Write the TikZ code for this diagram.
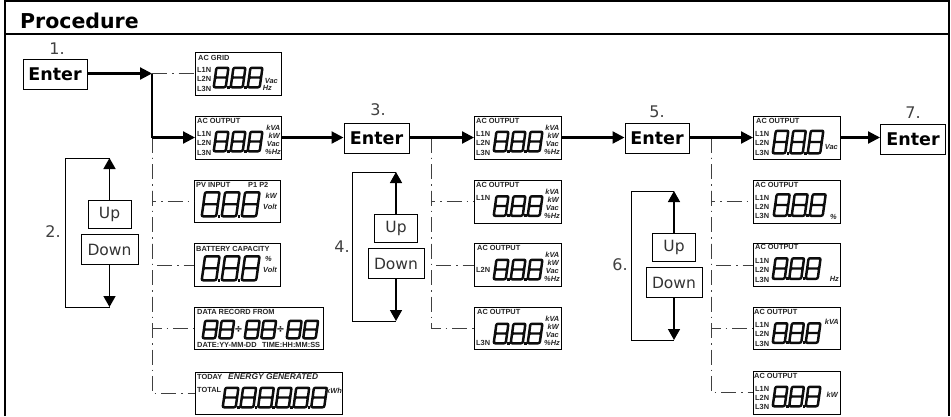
\documentclass[tikz,border=0pt]{standalone}
\usepackage{fontspec}
\setmainfont{DejaVu Sans}
\newfontfamily\lcdfont{Liberation Sans}
\usetikzlibrary{arrows.meta}
\newcounter{tc}
\tikzset{
  every picture/.style={x=1pt,y=-1pt},
  frameline/.style={line width=2.4pt,black},
  keybold/.style={draw,line width=1pt,inner sep=0pt,font=\bfseries\fontsize{17.5}{18}\selectfont,minimum width=64pt,minimum height=30pt},
  keyplain/.style={draw,line width=1pt,inner sep=0pt,font=\fontsize{15.5}{16}\selectfont,text=black!80},
  screen/.style={draw,line width=1pt,anchor=north west,inner sep=0pt,fill=white},
  steptext/.style={inner sep=0pt,text=black!75,font=\fontsize{16}{17}\selectfont},
  mainarrow/.style={line width=2.2pt,-{Triangle[length=12pt,width=12pt]}},
  loopline/.style={line width=1pt},
  looparrow/.style={line width=1.5pt,-{Triangle[length=11pt,width=12pt]}},
  dashdot/.style={line width=1pt,black!75,dash pattern=on 15pt off 5pt on 1.5pt off 5pt},
  segfill/.style={fill=black!95,even odd rule},
  tiny/.style={inner sep=0pt,text=black!85,font=\lcdfont\bfseries\fontsize{7.4}{7.6}\selectfont},
  unit/.style={inner sep=0pt,text=black!85,anchor=east,font=\lcdfont\bfseries\itshape\fontsize{7.4}{7.6}\selectfont},
}
% one seven-segment digit: x, bottom y, width, height
\newcommand\lcddigit[4]{%
  \begin{scope}[shift={(#1,#2)},xslant=0.14]
    \path[segfill]
      [rounded corners=2.6pt] (-1.5,1.5) rectangle (#3+1.5,-#4-1.5)
      [rounded corners=0.5pt] (1,-1) rectangle (#3-1,-#4/2+1.1)
      (1,-#4/2-1.1) rectangle (#3-1,-#4+1);
  \end{scope}}
\newcommand\lcddot[2]{\fill[black!95] (#1,#2) rectangle ++(2.6,-2.6);}
% row of digits: x, bottom y, count, advance, width, height, dots(0/1)
\newcommand\lcdrow[7]{%
  \foreach \k in {1,...,#3}{%
    \pgfmathsetmacro\xx{#1+(\k-1)*#4}%
    \lcddigit{\xx}{#2}{#5}{#6}%
    \ifnum#7=1
      \ifnum\k<#3
        \pgfmathsetmacro\xd{\xx+#5+1.5}%
        \lcddot{\xd}{#2+1.5}%
      \fi
    \fi
  }}
\newcommand\tl[3]{\stepcounter{tc}\node[tiny,anchor=west] (t\thetc) at (#1,#2) {#3};}
\newcommand\un[3]{\stepcounter{tc}\node[unit] (t\thetc) at (#1,#2) {#3};}
% screen frame at x,y with size w,h
\newcommand\scr[5]{%
  \node[screen,minimum width=#4pt,minimum height=#5pt] (#1) at (#2,#3) {};
  \begin{scope}[shift={(#2,#3)}]}
\newcommand\lll{\tl{2}{18}{L1N}\tl{2}{27}{L2N}\tl{2}{36.5}{L3N}}
\newcommand\fourunits{\un{85.5}{12}{kVA}\un{85}{20}{kW}\un{85}{28}{Vac}\un{86}{36}{\%Hz}}
\begin{document}
\begin{tikzpicture}
\useasboundingbox (0,0) rectangle (951,416);
% frame
\draw[frameline] (5,416) -- (5,1) -- (949,1) -- (949,416);
\draw[frameline,line width=1.8pt] (5,34) -- (949,34);
\node[inner sep=0pt,anchor=west,font=\bfseries\fontsize{20.5}{21}\selectfont] (title) at (20,20.5) {Procedure};

% screens, column 1
\scr{grid}{195}{52}{86}{43}
  \tl{3}{5.5}{AC GRID}\lll
  \lcdrow{19}{35}{3}{17}{11.5}{19}{1}
  \un{83}{29}{Vac}\un{77}{36}{Hz}
\end{scope}
\scr{out}{195}{116}{86}{43}
  \tl{2}{5}{AC OUTPUT}\lll
  \lcdrow{19}{35}{3}{17}{11.5}{19}{1}
  \fourunits
\end{scope}
\scr{pv}{194}{180}{86}{42}
  \tl{2}{5}{PV INPUT}\tl{54}{5}{P1 P2}
  \lcdrow{8}{36}{3}{20}{14}{23.5}{1}
  \un{83}{16}{kW}\un{83}{27}{Volt}
\end{scope}
\scr{bat}{194}{243}{86}{43}
  \tl{2}{5.5}{BATTERY CAPACITY}
  \lcdrow{8}{37}{3}{20}{14}{23.5}{1}
  \un{78}{16}{\%}\un{83}{27}{Volt}
\end{scope}
\scr{rec}{194}{307}{129}{42}
  \tl{3}{4.5}{DATA RECORD FROM}
  \lcdrow{9}{31}{2}{16.5}{12}{17}{0}
  \lcdrow{51}{31}{2}{16.5}{12}{17}{0}
  \lcdrow{93}{31}{2}{16.5}{12}{17}{0}
  \stepcounter{tc}\node[inner sep=0pt,font=\bfseries\fontsize{10}{10}\selectfont] (t\thetc) at (44.5,22.5) {÷};
  \stepcounter{tc}\node[inner sep=0pt,font=\bfseries\fontsize{10}{10}\selectfont] (t\thetc) at (86.5,22.5) {÷};
  \tl{3}{38}{DATE:YY-MM-DD}\tl{68}{38}{TIME:HH:MM:SS}
\end{scope}
\scr{tot}{195}{372}{147}{42}
  \tl{2}{5}{TODAY}
  \stepcounter{tc}\node[tiny,anchor=west,font=\lcdfont\bfseries\itshape\fontsize{8.4}{8.6}\selectfont] (t\thetc) at (33,5) {ENERGY GENERATED};
  \tl{2}{18}{TOTAL}
  \lcdrow{28}{35}{6}{17.7}{12.5}{19}{1}
  \un{147}{18.5}{kWh}
\end{scope}

% screens, column 2
\scr{a1}{474}{116}{87}{43}
  \tl{2}{5}{AC OUTPUT}\lll
  \lcdrow{20}{35}{3}{17}{11.5}{19}{1}
  \fourunits
\end{scope}
\scr{a2}{474}{179.5}{87}{43}
  \tl{2}{5}{AC OUTPUT}\tl{2}{18}{L1N}
  \lcdrow{20}{36}{3}{17}{11.5}{19}{1}
  \fourunits
\end{scope}
\scr{a3}{474}{243}{87}{43}
  \tl{3}{5}{AC OUTPUT}\tl{2}{26.5}{L2N}
  \lcdrow{20}{36}{3}{17}{11.5}{19}{1}
  \fourunits
\end{scope}
\scr{a4}{474}{307}{87}{42}
  \tl{3}{5}{AC OUTPUT}\tl{2}{35.5}{L3N}
  \lcdrow{20}{36}{3}{17}{11.5}{19}{1}
  \fourunits
\end{scope}

% screens, column 3
\scr{b1}{753}{116}{87}{43}
  \tl{3}{4.5}{AC OUTPUT}\lll
  \lcdrow{20}{37}{3}{17.5}{12}{22}{1}
  \un{85}{31}{Vac}
\end{scope}
\scr{b2}{753}{179.5}{87}{43}
  \tl{2}{5}{AC OUTPUT}\lll
  \lcdrow{21}{36}{3}{18}{12.5}{21}{1}
  \un{84}{37}{\%}
\end{scope}
\scr{b3}{753}{243}{87}{43}
  \tl{2}{4}{AC OUTPUT}\lll
  \lcdrow{20}{35.5}{3}{16.5}{11.5}{20}{1}
  \un{86}{36}{Hz}
\end{scope}
\scr{b4}{753}{307}{87}{42}
  \tl{1}{5}{AC OUTPUT}\lll
  \lcdrow{20}{35.5}{3}{16.5}{11.5}{19}{1}
  \un{86}{15}{kVA}
\end{scope}
\scr{b5}{753}{370.5}{87}{43}
  \tl{1}{5}{AC OUTPUT}\lll
  \lcdrow{20}{35.5}{3}{16.5}{11.5}{19}{1}
  \un{85}{24}{kW}
\end{scope}

% enter keys
\node[keybold] (e1) at (55,74) {Enter};
\node[keybold,minimum width=65pt] (e3) at (376.5,138) {Enter};
\node[keybold] (e5) at (657,138) {Enter};
\node[keybold,minimum width=65pt] (e7) at (913,139) {Enter};
\node[steptext] (n1) at (57,49) {1.};
\node[steptext] (n3) at (378,110) {3.};
\node[steptext] (n5) at (657,112) {5.};
\node[steptext] (n7) at (913,113) {7.};
\node[steptext] (n2) at (53,232) {2.};
\node[steptext] (n4) at (342,247) {4.};
\node[steptext] (n6) at (620,265) {6.};

% up/down keys
\node[keyplain,minimum width=43pt,minimum height=27.5pt] (u2) at (109.5,214.5) {Up};
\node[keyplain,minimum width=57pt,minimum height=29.5pt] (d2) at (109.5,249.5) {Down};
\node[keyplain,minimum width=43pt,minimum height=27.5pt] (u4) at (396,228.5) {Up};
\node[keyplain,minimum width=56pt,minimum height=29.5pt] (d4) at (396,263.5) {Down};
\node[keyplain,minimum width=43pt,minimum height=27.5pt] (u6) at (674,247.5) {Up};
\node[keyplain,minimum width=56pt,minimum height=29.5pt] (d6) at (674,282.5) {Down};

% coordinates
\coordinate (j1) at (152,73.5);
\coordinate (j2) at (152,137.5);
\coordinate (k1) at (431,137.5);
\coordinate (m1) at (711,137.5);
\coordinate (l2t) at (109.5,158);
\coordinate (l2b) at (109.5,307);
\coordinate (l4t) at (396,172);
\coordinate (l4b) at (396,321);
\coordinate (l6t) at (674,191);
\coordinate (l6b) at (674,340);

% dash-dot branches
\draw[dashdot] (j1) -- (j1 -| grid.west);
\draw[dashdot] (j2) |- (pv.west);
\draw[dashdot] (j2) |- (bat.west);
\draw[dashdot] (j2) |- (rec.west);
\draw[dashdot] (j2) |- (tot.west);
\draw[dashdot] (k1) |- (a2.west);
\draw[dashdot] (k1) |- (a3.west);
\draw[dashdot] (k1) |- (a4.west);
\draw[dashdot] (m1) |- (b2.west);
\draw[dashdot] (m1) |- (b3.west);
\draw[dashdot] (m1) |- (b4.west);
\draw[dashdot] (m1) |- (b5.west);

% main arrows
\draw[mainarrow] (e1.east |- j1) -- (j1);
\draw[line width=2.2pt] (j1) -- (j2);
\draw[mainarrow] (j2) -- (j2 -| out.west);
\draw[mainarrow] (out.east |- j2) -- (e3.west |- j2);
\draw[mainarrow] (e3.east |- k1) -- (a1.west |- k1);
\draw[mainarrow] (a1.east |- k1) -- (e5.west |- k1);
\draw[mainarrow] (e5.east |- m1) -- (b1.west |- m1);
\draw[mainarrow] (b1.east |- m1) -- (e7.west |- m1);

% up/down loops
\draw[loopline] (l2t) -- (65,158) -- (65,307) -- (l2b);
\draw[looparrow] (u2) -- (l2t);
\draw[looparrow] (d2) -- (l2b);
\draw[loopline] (l4t) -- (352,172) -- (352,321) -- (l4b);
\draw[looparrow] (u4) -- (l4t);
\draw[looparrow] (d4) -- (l4b);
\draw[loopline] (l6t) -- (631,191) -- (631,340) -- (l6b);
\draw[looparrow] (u6) -- (l6t);
\draw[looparrow] (d6) -- (l6b);
\end{tikzpicture}
\end{document}
